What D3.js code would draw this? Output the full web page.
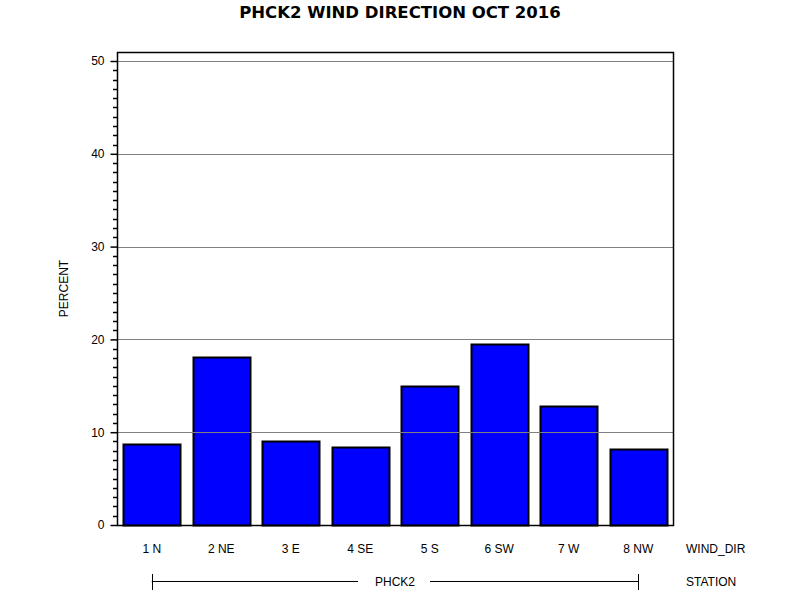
<!DOCTYPE html>
<html>
<head>
<meta charset="utf-8">
<script src="https://cdn.jsdelivr.net/npm/d3@7"></script>
<style>
  body { margin: 0; background: #fff; }
  text { font-family: "Liberation Sans", Arial, sans-serif; }
</style>
</head>
<body>
<svg id="chart" width="800" height="600"></svg>
<script>
const categories = ["1 N", "2 NE", "3 E", "4 SE", "5 S", "6 SW", "7 W", "8 NW"];
const percents = [8.7, 18.07, 9.02, 8.4, 14.95, 19.47, 12.8, 8.19];
const yTicks = [0, 10, 20, 30, 40, 50];
const station = "PHCK2";
const title = "PHCK2 WIND DIRECTION OCT 2016";

(function () {
const svg = d3.select("#chart");
const pLeft = 117, pRight = 673, pTop = 52, pBottom = 525;

const x = d3.scaleBand().domain(categories).range([pLeft, pRight]).paddingInner(0.187).paddingOuter(0.0935);
const y = d3.scaleLinear().domain([0, 50]).range([pBottom, 61]);
const yMax = y.invert(pTop);

svg.append("rect").attr("width", 800).attr("height", 600).attr("fill", "#fff");

// title
svg.append("text").attr("x", 400).attr("y", 18).attr("text-anchor", "middle")
  .style("font-family", "'DejaVu Sans', Verdana, sans-serif")
  .attr("font-size", 16.5).attr("font-weight", "bold").text(title);

// bars
svg.append("g").selectAll("rect").data(categories).join("rect")
  .attr("x", d => Math.round(x(d)) + 0.5)
  .attr("y", (d, i) => Math.round(y(percents[i])) + 0.5)
  .attr("width", Math.round(x.bandwidth()))
  .attr("height", (d, i) => pBottom - Math.round(y(percents[i])))
  .attr("fill", "#0000ff").attr("stroke", "#000").attr("stroke-width", 2);

// gridlines drawn over bars
svg.append("g").selectAll("line").data(yTicks.filter(d => d > 0)).join("line")
  .attr("x1", pLeft).attr("x2", pRight)
  .attr("y1", d => Math.round(y(d)) + 0.5).attr("y2", d => Math.round(y(d)) + 0.5)
  .attr("stroke", "#808080").attr("stroke-width", 1);

// frame
svg.append("rect").attr("x", pLeft + 0.5).attr("y", pTop + 0.5)
  .attr("width", pRight - pLeft).attr("height", pBottom - pTop)
  .attr("fill", "none").attr("stroke", "#000").attr("stroke-width", 1.5);

// y axis
const yAxis = d3.axisLeft(y).tickValues(yTicks).tickSize(7).tickPadding(6).tickFormat(d3.format("d"));
const gy = svg.append("g").attr("transform", `translate(${pLeft + 0.5},0)`).call(yAxis);
gy.select(".domain").remove();
gy.selectAll("text").attr("font-size", 12).attr("font-family", "Liberation Sans, Arial, sans-serif").attr("fill", "#000");
gy.selectAll("line").attr("stroke", "#000").attr("stroke-width", 1.5);
const minor = d3.range(0, Math.floor(yMax) + 1).filter(v => v % 10 !== 0);
svg.append("g").selectAll("line").data(minor).join("line")
  .attr("x1", pLeft - 4).attr("x2", pLeft)
  .attr("y1", d => Math.round(y(d)) + 0.5).attr("y2", d => Math.round(y(d)) + 0.5)
  .attr("stroke", "#000").attr("stroke-width", 1.5);

// y title
svg.append("text").attr("transform", `translate(68,${(pTop + pBottom) / 2}) rotate(-90)`)
  .attr("text-anchor", "middle").attr("font-size", 12).text("PERCENT");

// x labels
svg.append("g").selectAll("text").data(categories).join("text")
  .attr("x", d => x(d) + x.bandwidth() / 2).attr("y", 553)
  .attr("text-anchor", "middle").attr("font-size", 12).text(d => d);
svg.append("text").attr("x", 686).attr("y", 553).attr("font-size", 12).text("WIND_DIR");

// station bracket
const x0 = x(categories[0]) + x.bandwidth() / 2;
const x1 = x(categories[categories.length - 1]) + x.bandwidth() / 2;
const mid = (x0 + x1) / 2;
const g = svg.append("g").attr("stroke", "#000").attr("stroke-width", 1);
g.append("line").attr("x1", x0).attr("x2", mid - 37).attr("y1", 581.5).attr("y2", 581.5);
g.append("line").attr("x1", mid + 35).attr("x2", x1).attr("y1", 581.5).attr("y2", 581.5);
g.append("line").attr("x1", Math.round(x0) + 0.5).attr("x2", Math.round(x0) + 0.5).attr("y1", 574).attr("y2", 590);
g.append("line").attr("x1", Math.round(x1) + 0.5).attr("x2", Math.round(x1) + 0.5).attr("y1", 574).attr("y2", 590);
svg.append("text").attr("x", mid).attr("y", 585.5).attr("text-anchor", "middle").attr("font-size", 12).text(station);
svg.append("text").attr("x", 686).attr("y", 585.5).attr("font-size", 12).text("STATION");
})();
</script>
</body>
</html>
